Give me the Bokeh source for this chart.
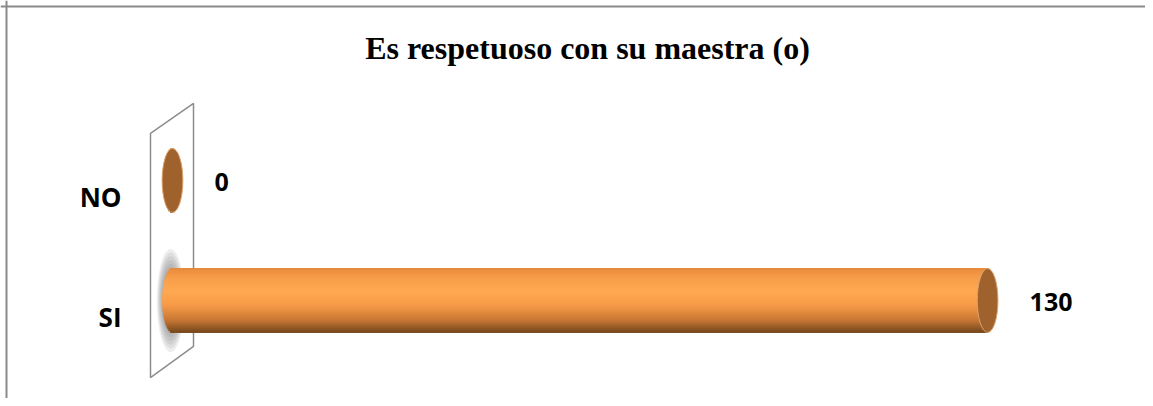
import numpy as np
from bokeh.plotting import figure
from bokeh.models import Range1d, Label, Span, ColumnDataSource
from bokeh.embed import file_html
from bokeh.resources import INLINE
from bokeh.core.properties import value

# ---- data ----
title = "Es respetuoso con su maestra (o)"
categories = ["SI", "NO"]
values = [130, 0]
value_labels = ["130", "0"]

# ---- layout (pixels) ----
W, H = 1145, 398
x0_px = 172.0          # canvas x of value 0
px_per_unit = 6.27     # pixels per value unit
y_unit_px = 120.0      # pixels between category rows
first_row_from_bottom = 98.0

xs = -x0_px / px_per_unit
xe = xs + W / px_per_unit
ys = -first_row_from_bottom / y_unit_px
ye = ys + H / y_unit_px

p = figure(width=W, height=H, output_backend="svg", toolbar_location=None,
           x_range=Range1d(xs, xe), y_range=Range1d(ys, ye), min_border=0,
           x_axis_location=None, y_axis_location=None,
           background_fill_color="white", border_fill_color="white",
           outline_line_color=None)
p.grid.visible = False

ypos = list(range(len(categories)))

# ---- border (top & left) ----
p.add_layout(Span(location=ye - 6.0 / y_unit_px, dimension="width",
                  line_color="#8a8a8a", line_width=2))
p.add_layout(Span(location=xs + 6.0 / px_per_unit, dimension="height",
                  line_color="#8a8a8a", line_width=2))

# ---- 3D wall (parallelogram) ----
wall_x = [-3.51, 3.35, 3.35, -3.51]
wall_y = [1.392, 1.642, -0.383, -0.642]
p.patch(wall_x, wall_y, fill_color="white", line_color="#8c8c8c", line_width=1.5)

bar_h = 0.533
cap_w = 3.3
a = cap_w / 2

# ---- shadow at bar base ----
xs_sh = [0 for v in values if v > 0]
ys_sh = [y for y, v in zip(ypos, values) if v > 0]
for k, sc in enumerate(np.linspace(1.0, 0.5, 8)):
    p.ellipse(x=[x - 0.3 for x in xs_sh], y=ys_sh, width=4.4 * sc, height=0.86 * sc,
              fill_color="#666666", fill_alpha=0.11, line_color=None)

# ---- cylinder body as gradient strips ----
stops = [(0.0, (0xE6, 0x88, 0x3A)), (0.12, (0xF6, 0x9B, 0x48)), (0.36, (0xFF, 0xA9, 0x52)),
         (0.58, (0xF6, 0x9A, 0x47)), (0.8, (0xCC, 0x7A, 0x35)), (1.0, (0x76, 0x47, 0x1E))]

def grad(t):
    for (t0, c0), (t1, c1) in zip(stops[:-1], stops[1:]):
        if t <= t1:
            f = (t - t0) / (t1 - t0)
            c = [int(round(c0[j] + (c1[j] - c0[j]) * f)) for j in range(3)]
            return "#%02x%02x%02x" % tuple(c)
    return "#%02x%02x%02x" % stops[-1][1]

n = 36
sy, sl, sr, sc_ = [], [], [], []
for y, v in zip(ypos, values):
    for i in range(n):
        t = (i + 0.5) / n
        s = 1 - 2 * t
        sy.append(y + bar_h / 2 - (i + 0.5) * bar_h / n)
        sl.append(0 - a * np.sqrt(max(0.0, 1 - s * s)))
        sr.append(v)
        sc_.append(grad(t))
src = ColumnDataSource(dict(y=sy, left=sl, right=sr, color=sc_))
p.hbar(y="y", left="left", right="right", height=bar_h / n * 1.5, source=src,
       fill_color="color", line_color=None)

# ---- end caps ----
p.ellipse(x=values, y=ypos, width=cap_w, height=bar_h,
          fill_color="#A0622D", line_color="#D9A36E", line_width=1)

# ---- value labels ----
p.text(x=values, y=ypos, text=value_labels, x_offset=42, y_offset=1,
       text_align="left", text_baseline="middle",
       text_font=value("Open Sans"), text_font_style="bold",
       text_font_size="25px", text_color="black")

# ---- category labels ----
p.text(x=[0] * len(categories), y=ypos, text=categories, x_offset=-51, y_offset=16,
       text_align="right", text_baseline="middle",
       text_font=value("Open Sans"), text_font_style="bold",
       text_font_size="26px", text_color="black")

# ---- title ----
p.add_layout(Label(x=587, y=H - 47, x_units="screen", y_units="screen", text=title,
                   text_align="center", text_baseline="middle",
                   text_font="Liberation Serif", text_font_style="bold",
                   text_font_size="32px", text_color="black"))

open("out.html", "w").write(file_html(p, INLINE))
